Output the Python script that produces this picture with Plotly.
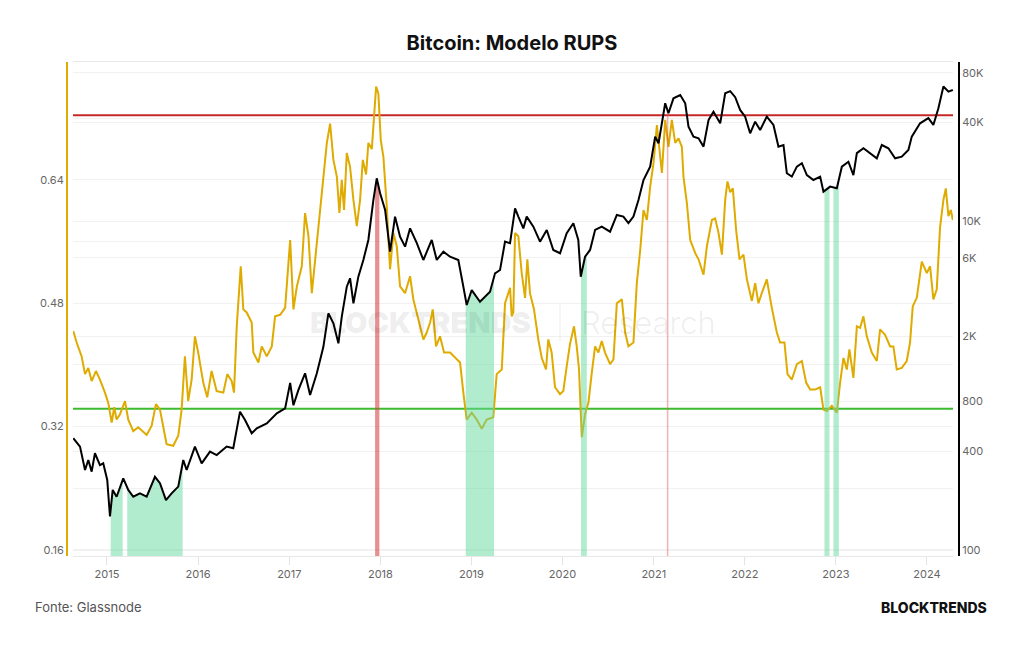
import numpy as np
import pandas as pd
import plotly.graph_objects as go

# ---------------- data (decimal years) ----------------
price_t = [2014.630, 2014.704, 2014.759, 2014.795, 2014.832, 2014.868, 2014.923, 2014.959, 2015.003, 2015.033,
           2015.063, 2015.106, 2015.179, 2015.234, 2015.289, 2015.362, 2015.436, 2015.527, 2015.582, 2015.648,
           2015.710, 2015.783, 2015.838, 2015.875, 2015.966, 2016.040, 2016.131, 2016.204, 2016.314, 2016.386,
           2016.460, 2016.515, 2016.588, 2016.643, 2016.753, 2016.863, 2016.954, 2017.009, 2017.045, 2017.100,
           2017.173, 2017.228, 2017.302, 2017.374, 2017.429, 2017.484, 2017.539, 2017.576, 2017.631, 2017.667,
           2017.704, 2017.758, 2017.813, 2017.868, 2017.923, 2017.960, 2017.997, 2018.052, 2018.106, 2018.161,
           2018.216, 2018.271, 2018.326, 2018.400, 2018.472, 2018.564, 2018.619, 2018.692, 2018.765, 2018.856,
           2018.911, 2018.948, 2019.003, 2019.094, 2019.204, 2019.259, 2019.314, 2019.369, 2019.424, 2019.479,
           2019.515, 2019.570, 2019.607, 2019.680, 2019.753, 2019.827, 2019.899, 2019.973, 2020.046, 2020.119,
           2020.173, 2020.200, 2020.247, 2020.302, 2020.357, 2020.430, 2020.521, 2020.595, 2020.667, 2020.722,
           2020.777, 2020.832, 2020.887, 2020.960, 2021.015, 2021.052, 2021.125, 2021.161, 2021.216, 2021.290,
           2021.345, 2021.381, 2021.436, 2021.491, 2021.546, 2021.601, 2021.655, 2021.729, 2021.784, 2021.839,
           2021.894, 2021.948, 2022.003, 2022.058, 2022.113, 2022.168, 2022.241, 2022.314, 2022.369, 2022.424,
           2022.461, 2022.516, 2022.571, 2022.626, 2022.681, 2022.753, 2022.827, 2022.863, 2022.936, 2023.010,
           2023.065, 2023.137, 2023.192, 2023.230, 2023.302, 2023.375, 2023.449, 2023.504, 2023.576, 2023.650,
           2023.723, 2023.796, 2023.833, 2023.924, 2024.015, 2024.070, 2024.125, 2024.180, 2024.235, 2024.283]
price_usd = [479, 426, 307, 353, 300, 388, 329, 337, 267, 160,
             232, 211, 273, 232, 211, 221, 211, 279, 255, 201,
             221, 243, 353, 307, 426, 337, 397, 378, 426, 416,
             695, 618, 513, 550, 590, 679, 728, 1040, 760, 942,
             1189, 877, 1189, 1725, 2758, 2399, 1811, 2630, 4006, 4508,
             3175, 4607, 5821, 7709, 13490, 18280, 14830, 11730, 6546, 10690,
             8069, 7016, 9070, 7365, 5821, 7709, 5821, 6546, 6095, 5821,
             4006, 3100, 3820, 3243, 3733, 4830, 5060, 7530, 7365, 12000,
             10690, 9070, 10690, 9290, 7530, 8870, 6700, 6396, 8466, 9750,
             7709, 4607, 6095, 6700, 8870, 9290, 8651, 10940, 10690, 9750,
             10690, 13490, 17860, 21530, 32810, 29860, 52360, 45500, 56100, 58770,
             52360, 37670, 32810, 32060, 28510, 41400, 46560, 39530, 60250, 62000,
             57000, 47690, 43400, 34360, 40460, 35990, 43400, 38640, 28510, 29170,
             19630, 18730, 21530, 22610, 19140, 17860, 18730, 15170, 16270, 15890,
             21530, 23070, 19140, 26020, 27860, 26020, 24210, 29170, 27860, 24210,
             24770, 27230, 32810, 39530, 42460, 38640, 48850, 66200, 61660, 63100]

rups_t = [2014.630, 2014.667, 2014.722, 2014.759, 2014.795, 2014.832, 2014.879, 2014.923, 2014.978, 2015.014,
          2015.052, 2015.080, 2015.106, 2015.143, 2015.198, 2015.234, 2015.289, 2015.344, 2015.436, 2015.491,
          2015.538, 2015.582, 2015.655, 2015.728, 2015.783, 2015.820, 2015.856, 2015.892, 2015.930, 2015.966,
          2016.002, 2016.057, 2016.101, 2016.149, 2016.204, 2016.277, 2016.321, 2016.369, 2016.394, 2016.424,
          2016.468, 2016.496, 2016.533, 2016.588, 2016.606, 2016.661, 2016.698, 2016.753, 2016.808, 2016.844,
          2016.899, 2016.954, 2017.009, 2017.045, 2017.083, 2017.137, 2017.173, 2017.210, 2017.247, 2017.283,
          2017.338, 2017.374, 2017.412, 2017.448, 2017.484, 2017.522, 2017.550, 2017.576, 2017.601, 2017.631,
          2017.667, 2017.704, 2017.741, 2017.777, 2017.807, 2017.843, 2017.868, 2017.906, 2017.923, 2017.953,
          2017.978, 2018.004, 2018.033, 2018.070, 2018.106, 2018.143, 2018.180, 2018.216, 2018.271, 2018.326,
          2018.362, 2018.417, 2018.472, 2018.509, 2018.546, 2018.575, 2018.611, 2018.655, 2018.699, 2018.765,
          2018.839, 2018.875, 2018.911, 2018.948, 2019.003, 2019.058, 2019.113, 2019.168, 2019.240, 2019.277,
          2019.333, 2019.369, 2019.424, 2019.442, 2019.460, 2019.479, 2019.515, 2019.552, 2019.589, 2019.614,
          2019.643, 2019.687, 2019.734, 2019.772, 2019.819, 2019.844, 2019.881, 2019.918, 2019.973, 2020.009,
          2020.046, 2020.082, 2020.126, 2020.156, 2020.181, 2020.211, 2020.247, 2020.284, 2020.321, 2020.357,
          2020.393, 2020.430, 2020.466, 2020.521, 2020.558, 2020.595, 2020.650, 2020.686, 2020.722, 2020.777,
          2020.814, 2020.851, 2020.887, 2020.924, 2020.960, 2020.997, 2021.034, 2021.070, 2021.089, 2021.125,
          2021.161, 2021.198, 2021.235, 2021.271, 2021.308, 2021.326, 2021.363, 2021.400, 2021.455, 2021.491,
          2021.546, 2021.583, 2021.638, 2021.674, 2021.711, 2021.748, 2021.784, 2021.809, 2021.839, 2021.868,
          2021.904, 2021.941, 2021.985, 2022.022, 2022.077, 2022.113, 2022.149, 2022.186, 2022.241, 2022.296,
          2022.351, 2022.387, 2022.435, 2022.468, 2022.516, 2022.571, 2022.626, 2022.673, 2022.717, 2022.772,
          2022.827, 2022.863, 2022.900, 2022.955, 2023.010, 2023.046, 2023.083, 2023.120, 2023.148, 2023.192,
          2023.230, 2023.266, 2023.302, 2023.339, 2023.394, 2023.449, 2023.485, 2023.540, 2023.595, 2023.631,
          2023.668, 2023.723, 2023.778, 2023.814, 2023.844, 2023.888, 2023.943, 2023.998, 2024.034, 2024.070,
          2024.107, 2024.143, 2024.180, 2024.206, 2024.235, 2024.261, 2024.283]
rups_val = [0.444, 0.429, 0.411, 0.388, 0.396, 0.379, 0.392, 0.381, 0.364, 0.351,
            0.325, 0.345, 0.329, 0.336, 0.353, 0.329, 0.314, 0.319, 0.309, 0.321,
            0.349, 0.342, 0.297, 0.295, 0.308, 0.342, 0.411, 0.353, 0.381, 0.437,
            0.416, 0.377, 0.358, 0.392, 0.366, 0.364, 0.388, 0.379, 0.364, 0.450,
            0.528, 0.472, 0.468, 0.455, 0.416, 0.403, 0.424, 0.411, 0.424, 0.463,
            0.465, 0.474, 0.562, 0.472, 0.502, 0.528, 0.597, 0.567, 0.493, 0.537,
            0.606, 0.649, 0.688, 0.713, 0.666, 0.644, 0.597, 0.640, 0.601, 0.675,
            0.657, 0.614, 0.580, 0.614, 0.666, 0.647, 0.688, 0.680, 0.713, 0.761,
            0.752, 0.692, 0.670, 0.606, 0.524, 0.571, 0.554, 0.502, 0.493, 0.515,
            0.485, 0.459, 0.433, 0.442, 0.455, 0.472, 0.424, 0.437, 0.416, 0.416,
            0.407, 0.403, 0.364, 0.329, 0.338, 0.329, 0.317, 0.329, 0.332, 0.388,
            0.394, 0.480, 0.500, 0.463, 0.468, 0.571, 0.567, 0.519, 0.487, 0.537,
            0.493, 0.472, 0.433, 0.409, 0.394, 0.433, 0.416, 0.371, 0.362, 0.366,
            0.398, 0.427, 0.450, 0.424, 0.394, 0.306, 0.336, 0.351, 0.390, 0.424,
            0.416, 0.431, 0.416, 0.401, 0.407, 0.480, 0.485, 0.442, 0.424, 0.429,
            0.506, 0.549, 0.601, 0.588, 0.631, 0.662, 0.711, 0.675, 0.649, 0.718,
            0.683, 0.718, 0.688, 0.694, 0.683, 0.644, 0.610, 0.562, 0.545, 0.537,
            0.517, 0.554, 0.588, 0.590, 0.571, 0.543, 0.614, 0.638, 0.624, 0.629,
            0.575, 0.537, 0.543, 0.511, 0.483, 0.506, 0.480, 0.493, 0.511, 0.474,
            0.442, 0.429, 0.429, 0.388, 0.381, 0.401, 0.405, 0.377, 0.368, 0.368,
            0.371, 0.342, 0.340, 0.347, 0.338, 0.377, 0.409, 0.394, 0.420, 0.383,
            0.450, 0.448, 0.463, 0.437, 0.416, 0.405, 0.446, 0.439, 0.424, 0.424,
            0.394, 0.396, 0.405, 0.429, 0.476, 0.487, 0.534, 0.519, 0.528, 0.485,
            0.498, 0.578, 0.614, 0.629, 0.593, 0.601, 0.588]

# zones (decimal years) where RUPS is below the green / above the red band
green_start = [2015.041, 2015.223, 2018.937, 2020.203, 2022.874, 2022.973]
green_end = [2015.172, 2015.831, 2019.248, 2020.266, 2022.929, 2023.032]
red_start = [2017.942, 2021.143]
red_end = [2017.989, 2021.160]

upper_band = 0.724
lower_band = 0.343

left_ticks = [0.16, 0.32, 0.48, 0.64]
left_labels = ["0.16", "0.32", "0.48", "0.64"]
left_minor = [0.24, 0.40, 0.56, 0.72]
right_ticks = [100, 400, 800, 2000, 6000, 10000, 40000, 80000]
right_labels = ["100", "400", "800", "2K", "6K", "10K", "40K", "80K"]
x_range_years = [2014.627, 2024.285]
left_range = [0.152, 0.793]
right_range_log = [1.9635, 4.970]


def to_dt(y):
    yr = int(np.floor(y))
    a = pd.Timestamp(year=yr, month=1, day=1)
    b = pd.Timestamp(year=yr + 1, month=1, day=1)
    return a + (b - a) * (y - yr)


YELLOW = "#dfab00"
GREEN_FILL = "rgba(100,218,160,0.50)"
RED_FILL = "rgba(215,70,70,0.60)"
FONT = "Inter"

fig = go.Figure()

log_price = np.log10(price_usd)
ybot = 10 ** right_range_log[0]


def zone_trace(a, b, color):
    inner = [t for t in price_t if a < t < b]
    ts = [a] + inner + [b]
    vs = [10 ** np.interp(t, price_t, log_price) for t in ts]
    xs = [to_dt(t) for t in ts] + [to_dt(b), to_dt(a)]
    ys = vs + [ybot, ybot]
    return go.Scatter(x=xs, y=ys, yaxis="y2", mode="lines", fill="toself",
                      fillcolor=color, line=dict(width=0), hoverinfo="skip",
                      showlegend=False)


# RUPS line (left axis)
fig.add_trace(go.Scatter(x=[to_dt(t) for t in rups_t], y=rups_val, mode="lines",
                         line=dict(color=YELLOW, width=2), name="RUPS", showlegend=False))

# zones (drawn over the RUPS line, under the price line)
for a, b in zip(green_start, green_end):
    fig.add_trace(zone_trace(a, b, GREEN_FILL))
for i, (a, b) in enumerate(zip(red_start, red_end)):
    fig.add_trace(zone_trace(a, b, RED_FILL if i == 0 else "rgba(220,90,90,0.45)"))

# price line (right log axis)
fig.add_trace(go.Scatter(x=[to_dt(t) for t in price_t], y=price_usd, yaxis="y2", mode="lines",
                         line=dict(color="black", width=2), name="Price", showlegend=False))

# band lines
fig.add_shape(type="line", xref="x domain", yref="y", x0=0, x1=1, y0=upper_band, y1=upper_band,
              line=dict(color="#c62828", width=2), layer="below")
fig.add_shape(type="line", xref="x domain", yref="y", x0=0, x1=1, y0=lower_band, y1=lower_band,
              line=dict(color="#3dbb2f", width=2), layer="below")

pw = 1024 - 67 - 65
gap = 6 / pw

fig.update_layout(
    width=1024, height=645,
    margin=dict(l=67, r=65, t=62, b=89),
    paper_bgcolor="white", plot_bgcolor="white",
    font=dict(family=FONT, color="#666666", size=11),
    title=dict(text="Bitcoin: Modelo RUPS", x=0.5, xref="container", y=1 - 43 / 645,
               yref="container", yanchor="middle", xanchor="center",
               font=dict(family=FONT, size=20, color="#111111", weight=700)),
    xaxis=dict(type="date", domain=[gap, 1 - gap],
               range=[to_dt(x_range_years[0]), to_dt(x_range_years[1])],
               tick0="2015-01-01", dtick="M12", tickformat="%Y",
               showgrid=False, showline=True, linecolor="#e8e8e8", linewidth=1, mirror=True,
               ticks="outside", ticklen=8, tickcolor="#e3e3e3",
               tickfont=dict(size=11, color="#666666"), zeroline=False),
    yaxis=dict(range=left_range, tickvals=left_ticks, ticktext=left_labels,
               anchor="free", position=0, side="left",
               showline=True, linecolor=YELLOW, linewidth=2,
               showgrid=True, gridcolor="#f1f1f1", gridwidth=1,
               minor=dict(tickvals=left_minor, showgrid=True, gridcolor="#f1f1f1"),
               zeroline=False, ticks="", tickfont=dict(size=11, color="#666666")),
    yaxis2=dict(type="log", range=right_range_log, overlaying="y", side="right",
                anchor="free", position=1,
                tickvals=right_ticks, ticktext=right_labels,
                showline=True, linecolor="black", linewidth=2,
                showgrid=True, gridcolor="#f1f1f1", gridwidth=1,
                zeroline=False, ticks="", tickfont=dict(size=11, color="#666666")),
    showlegend=False,
)

# watermark
fig.add_annotation(text="BLOCKTRENDS", xref="paper", yref="paper", x=(533 - 67) / pw, y=(556 - 322) / 494,
                   xanchor="right", yanchor="middle", showarrow=False,
                   font=dict(family=FONT, size=29, color="rgba(0,0,0,0.08)", weight=900))
fig.add_annotation(text="Research", xref="paper", yref="paper", x=(579 - 67) / pw, y=(556 - 322) / 494,
                   xanchor="left", yanchor="middle", showarrow=False,
                   font=dict(family=FONT, size=31, color="rgba(0,0,0,0.08)", weight=300))
fig.add_shape(type="line", xref="paper", yref="paper", x0=(560 - 67) / pw, x1=(560 - 67) / pw,
              y0=(556 - 304) / 494, y1=(556 - 341) / 494, line=dict(color="rgba(0,0,0,0.08)", width=1),
              layer="above")

# footer
fig.add_annotation(text="Fonte: Glassnode", xref="paper", yref="paper", x=(33 - 67) / pw, y=(556 - 607) / 494,
                   xanchor="left", yanchor="middle", showarrow=False,
                   font=dict(family=FONT, size=13, color="#555555"))
fig.add_annotation(text="BLOCKTRENDS", xref="paper", yref="paper", x=(989 - 67) / pw, y=(556 - 607) / 494,
                   xanchor="right", yanchor="middle", showarrow=False,
                   font=dict(family=FONT, size=14, color="#111111", weight=800))

fig.write_html("out.html")
